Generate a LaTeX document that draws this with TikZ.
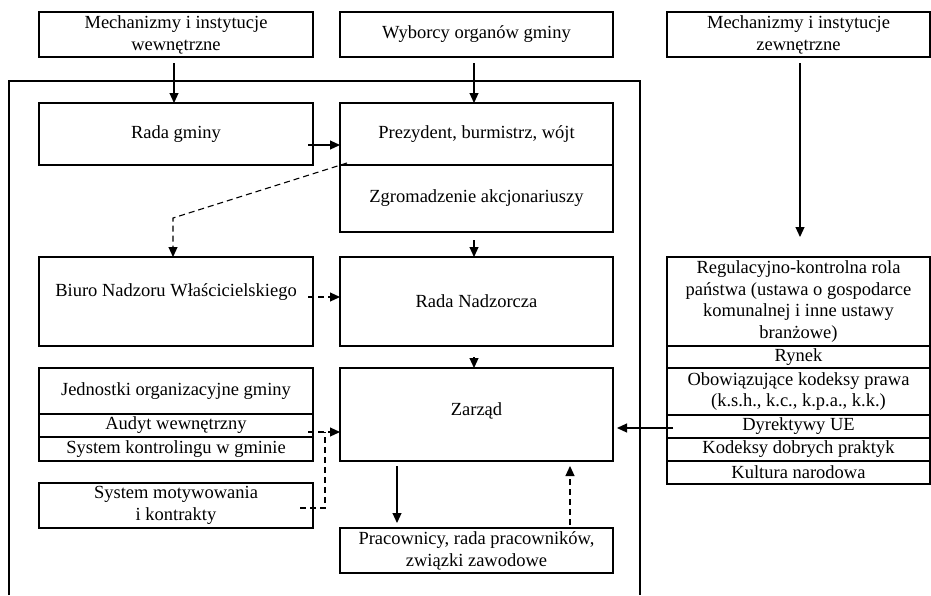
\documentclass[tikz,border=0pt]{standalone}
\usepackage{fontspec}
\setmainfont{Liberation Serif}
\usetikzlibrary{arrows.meta}

\begin{document}
\begin{tikzpicture}[x=1pt, y=-1pt,
    every node/.style={draw, line width=1.1pt, inner sep=0pt, outer sep=0pt, align=center,
      font=\fontsize{18.5}{21.8}\selectfont},
    >={Triangle[length=10pt,width=9pt]}
  ]
  \tikzset{
    pudlo/.style 2 args={minimum width=#1, minimum height=#2},
    strzalka/.style={->, line width=1.1pt},
    przerywana/.style={line width=1.1pt, dash pattern=on 6pt off 4pt}
  }
  \useasboundingbox (0,0) rectangle (931,595);
  % ramka gminy
  \draw[line width=1.1pt] (9,595) |- (640,81) -- (640,595);
  % gora
  \node[pudlo={274pt}{45pt}] (wew) at (176,34.5) {Mechanizmy i instytucje\\wewnętrzne};
  \node[pudlo={273pt}{45pt}] (wyb) at (476.5,34.5) {Wyborcy organów gminy};
  \node[pudlo={263pt}{45pt}] (zew) at (798.5,34.5) {Mechanizmy i instytucje\\zewnętrzne};
  % lewa kolumna
  \node[pudlo={274pt}{62pt}] (rada) at (176,134) {Rada gminy};
  \node[pudlo={274pt}{89pt}, text depth=22pt] (biuro) at (176,301.5) {Biuro Nadzoru Właścicielskiego};
  \node[pudlo={274pt}{46pt}] (jedn) at (176,391) {Jednostki organizacyjne gminy};
  \node[pudlo={274pt}{23pt}] (audyt) at (176,425.5) {Audyt wewnętrzny};
  \node[pudlo={274pt}{24pt}] (kontr) at (176,449) {System kontrolingu w gminie};
  \node[pudlo={274pt}{45pt}] (motyw) at (176,505.5) {System motywowania\\i kontrakty};
  % srodkowa kolumna
  \node[pudlo={273pt}{62pt}] (prez) at (476.5,134) {Prezydent, burmistrz, wójt};
  \node[pudlo={273pt}{67pt}] (zgrom) at (476.5,198.5) {Zgromadzenie akcjonariuszy};
  \node[pudlo={273pt}{89pt}] (nadz) at (476.5,301.5) {Rada Nadzorcza};
  \node[pudlo={273pt}{93pt}, text depth=10pt] (zarzad) at (476.5,414.5) {Zarząd};
  \node[pudlo={273pt}{45pt}] (prac) at (476.5,550.5) {Pracownicy, rada pracowników,\\związki zawodowe};
  % prawa kolumna
  \node[pudlo={263pt}{89pt}] (regul) at (798.5,301.5) {Regulacyjno-kontrolna rola\\państwa (ustawa o gospodarce\\komunalnej i inne ustawy\\branżowe)};
  \node[pudlo={263pt}{22pt}] (rynek) at (798.5,357) {Rynek};
  \node[pudlo={263pt}{47pt}] (obow) at (798.5,391.5) {Obowiązujące kodeksy prawa\\(k.s.h., k.c., k.p.a., k.k.)};
  \node[pudlo={263pt}{23pt}] (dyr) at (798.5,426.5) {Dyrektywy UE};
  \node[pudlo={263pt}{23pt}] (kod) at (798.5,449.5) {Kodeksy dobrych praktyk};
  \node[pudlo={263pt}{23pt}] (kult) at (798.5,472.5) {Kultura narodowa};
  % polaczenia
  \coordinate (kolano) at (173,218);
  \coordinate (wezel) at (325,432);
  \draw[strzalka, shorten <=6pt] ([xshift=-2pt]wew.south) -- ([xshift=-2pt]rada.north);
  \draw[strzalka, shorten <=6pt] ([xshift=-2.5pt]wyb.south) -- ([xshift=-2.5pt]prez.north);
  \draw[strzalka] ([xshift=-5pt,yshift=-11pt]rada.east) coordinate (r) -- (r -| prez.west);
  \draw[przerywana, ->] ([xshift=7pt,yshift=2pt]prez.south west) -- (kolano) -- (kolano |- biuro.north);
  \draw[strzalka, shorten <=8pt] ([xshift=-2.5pt]zgrom.south) -- ([xshift=-2.5pt]nadz.north);
  \draw[przerywana, ->] ([xshift=-5pt,yshift=4.5pt]biuro.east) coordinate (b) -- (b -| nadz.west);
  \draw[strzalka, shorten <=11pt] ([xshift=-2.5pt]nadz.south) -- ([xshift=-2.5pt]zarzad.north);
  \draw[przerywana, ->] ([xshift=-5pt,yshift=-6.5pt]audyt.east) coordinate (a) -- (a -| zarzad.west);
  \draw[przerywana] ([xshift=-13pt,yshift=-2.5pt]motyw.east) -| (wezel);
  \draw[strzalka, shorten <=5pt, shorten >=5pt] ([xshift=-79.5pt]zarzad.south) coordinate (z) -- (z |- prac.north);
  \draw[przerywana, ->, shorten <=3pt, shorten >=5pt] ([xshift=93.5pt]prac.north) coordinate (p) -- (p |- zarzad.south);
  \draw[strzalka, shorten <=6pt, shorten >=20pt] ([xshift=1.5pt]zew.south) coordinate (e) -- (e |- regul.north);
  \draw[strzalka, shorten >=4pt] ([xshift=6pt,yshift=-1.5pt]dyr.west) coordinate (d) -- (d -| zarzad.east);
\end{tikzpicture}
\end{document}
